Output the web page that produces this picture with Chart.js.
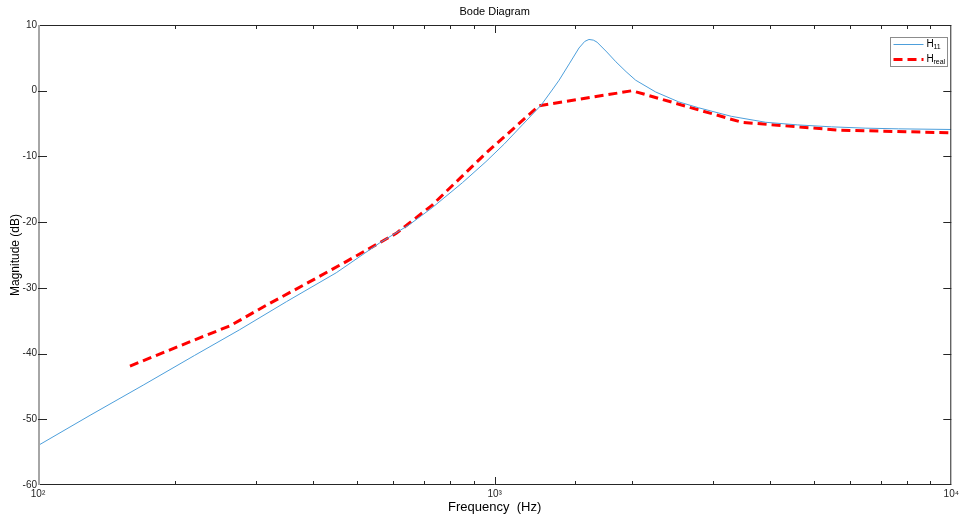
<!DOCTYPE html>
<html>
<head>
<meta charset="utf-8">
<script src="https://cdn.jsdelivr.net/npm/chart.js@4.4.1/dist/chart.umd.min.js"></script>
<style>
  html, body { margin: 0; padding: 0; background: #fff; }
  #wrap { width: 962px; height: 516px; position: relative; }
</style>
</head>
<body>
<div id="wrap"><canvas id="bode"></canvas></div>
<script>
// H11 (model) magnitude
const h11Freq = [100, 130, 170, 220, 276, 350, 450, 559, 650, 730, 850, 957, 1050, 1150, 1264, 1336, 1384, 1460, 1530, 1575, 1609, 1645, 1675, 1760, 1843, 1940, 2036, 2253, 2530, 2798, 3300, 3920, 4600, 5470, 6500, 7660, 10000];
const h11Mag  = [-54.0, -49.4, -44.8, -40.3, -36.4, -32.1, -27.7, -23.2, -20.4, -17.8, -14.0, -10.8, -8.1, -5.2, -2.2, 0.1, 1.6, 4.2, 6.5, 7.5, 7.8, 7.7, 7.4, 5.9, 4.4, 2.9, 1.6, -0.2, -1.7, -2.6, -3.9, -4.8, -5.2, -5.5, -5.7, -5.8, -5.9];

// H real (measured) magnitude
const realFreq = [159, 226, 263, 317, 393, 473, 609, 730, 957, 1250, 2000, 3475, 5663, 10000];
const realMag  = [-41.9, -37.6, -35.8, -32.6, -29.1, -26.0, -21.7, -17.4, -9.5, -2.3, 0.0, -4.8, -6.0, -6.4];

const xDecades = [100, 1000, 10000];
const xDecadeLabels = ['10\u00B2', '10\u00B3', '10\u2074'];
const yMin = -60, yMax = 10, yStep = 10;

const font = 'Liberation Sans, Arial, Helvetica, sans-serif';
const axisColor = '#262626';

function isDecade(v) {
  const l = Math.log10(v);
  return Math.abs(l - Math.round(l)) < 1e-6;
}

// MATLAB style box with inward ticks, title and legend
const matlabBox = {
  id: 'matlabBox',
  afterDatasetsDraw(chart) {
    const { ctx, chartArea: a, scales: { x, y } } = chart;
    ctx.save();
    ctx.lineWidth = 1;
    ctx.strokeStyle = axisColor;

    // frame
    ctx.beginPath();
    ctx.moveTo(a.left, a.top + 0.5); ctx.lineTo(a.right, a.top + 0.5);
    ctx.moveTo(a.left, a.bottom - 0.5); ctx.lineTo(a.right, a.bottom - 0.5);
    ctx.moveTo(a.right - 0.5, a.top); ctx.lineTo(a.right - 0.5, a.bottom);
    ctx.stroke();
    ctx.strokeStyle = '#a6a6a6';
    ctx.lineWidth = 2;
    ctx.beginPath();
    ctx.moveTo(a.left + 1, a.top); ctx.lineTo(a.left + 1, a.bottom);
    ctx.stroke();

    // x ticks, bottom and top
    ctx.lineWidth = 1;
    ctx.strokeStyle = axisColor;
    ctx.beginPath();
    x.ticks.forEach(t => {
      const px = Math.round(x.getPixelForValue(t.value)) + 0.5;
      if (px <= a.left + 1 || px >= a.right - 1) return;
      const len = isDecade(t.value) ? 8 : 4;
      ctx.moveTo(px, a.bottom); ctx.lineTo(px, a.bottom - len);
      ctx.moveTo(px, a.top); ctx.lineTo(px, a.top + len);
    });
    // y ticks, left and right
    y.ticks.forEach(t => {
      const py = Math.round(y.getPixelForValue(t.value)) + 0.5;
      if (py <= a.top + 1 || py >= a.bottom - 1) return;
      ctx.moveTo(a.left, py); ctx.lineTo(a.left + 9, py);
      ctx.moveTo(a.right, py); ctx.lineTo(a.right - 8, py);
    });
    ctx.stroke();

    // title
    ctx.fillStyle = '#000';
    ctx.font = '11px ' + font;
    ctx.textAlign = 'center';
    ctx.textBaseline = 'middle';
    ctx.fillText('Bode Diagram', (a.left + a.right) / 2, 12);

    // legend
    const lx = 890.5, ly = 37.5, lw = 57, lh = 29;
    ctx.fillStyle = '#fff';
    ctx.fillRect(lx, ly, lw, lh);
    ctx.strokeStyle = '#8c8c8c';
    ctx.strokeRect(lx, ly, lw, lh);
    const entries = chart.data.datasets;
    entries.forEach((ds, i) => {
      const cy = ly + 7 + i * 15;
      ctx.strokeStyle = ds.borderColor;
      ctx.lineWidth = ds.borderWidth;
      ctx.setLineDash(ds.borderDash || []);
      ctx.beginPath();
      ctx.moveTo(lx + 3, cy); ctx.lineTo(lx + 33, cy);
      ctx.stroke();
      ctx.setLineDash([]);
      ctx.fillStyle = '#000';
      ctx.textAlign = 'left';
      ctx.font = '10px ' + font;
      ctx.fillText('H', lx + 36, cy);
      ctx.font = '7px ' + font;
      ctx.fillText(ds.sub, lx + 43, cy + 3);
    });
    ctx.restore();
  }
};

new Chart(document.getElementById('bode'), {
  type: 'scatter',
  data: {
    datasets: [
      {
        label: 'H11',
        sub: '11',
        data: h11Freq.map((f, i) => ({ x: f, y: h11Mag[i] })),
        showLine: true,
        borderColor: '#4d9fdb',
        borderWidth: 1,
        pointRadius: 0,
        tension: 0
      },
      {
        label: 'Hreal',
        sub: 'real',
        data: realFreq.map((f, i) => ({ x: f, y: realMag[i] })),
        showLine: true,
        borderColor: '#ff0000',
        borderWidth: 3,
        borderDash: [9, 5],
        pointRadius: 0,
        tension: 0
      }
    ]
  },
  options: {
    responsive: true,
    maintainAspectRatio: false,
    animation: false,
    layout: { padding: { top: 25, right: 9, bottom: 0, left: 0 } },
    plugins: {
      legend: { display: false },
      title: { display: false },
      tooltip: { enabled: false }
    },
    scales: {
      x: {
        type: 'logarithmic',
        min: 100,
        max: 10000,
        border: { display: false },
        grid: { display: false, drawTicks: false },
        ticks: {
          autoSkip: false,
          maxRotation: 0,
          padding: 3,
          color: axisColor,
          font: { family: font, size: 10 },
          callback: v => {
            const k = xDecades.findIndex(d => Math.abs(d - v) < 1e-6);
            return k >= 0 ? xDecadeLabels[k] : '';
          }
        },
        title: {
          display: true,
          text: 'Frequency  (Hz)',
          color: '#000',
          font: { family: font, size: 13 },
          padding: { top: 0, bottom: 1 }
        },
        afterFit: s => { s.height = 31; }
      },
      y: {
        min: yMin,
        max: yMax,
        border: { display: false },
        grid: { display: false, drawTicks: false },
        ticks: {
          stepSize: yStep,
          padding: 1,
          color: axisColor,
          font: { family: font, size: 10 }
        },
        title: {
          display: true,
          text: 'Magnitude (dB)',
          color: '#000',
          font: { family: font, size: 12 },
          padding: { top: 8, bottom: 0 }
        },
        afterFit: s => { s.width = 38; }
      }
    }
  },
  plugins: [matlabBox]
});
</script>
</body>
</html>
